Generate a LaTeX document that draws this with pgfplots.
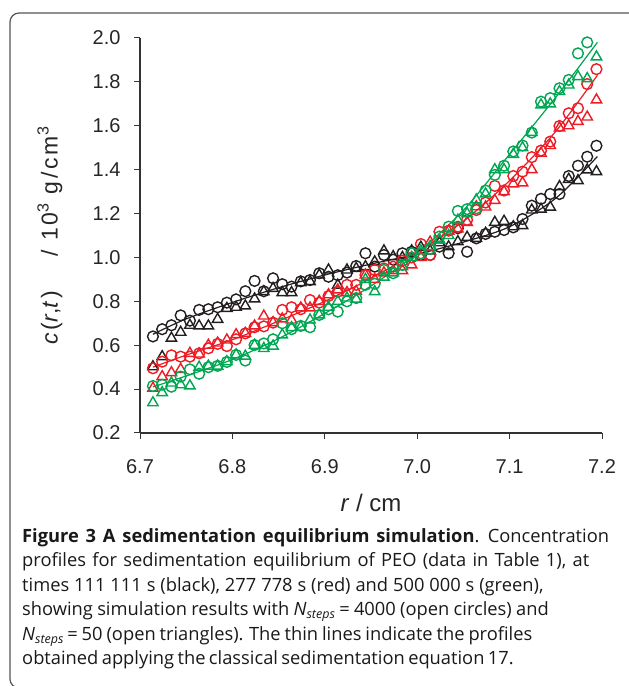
\documentclass[border=0pt]{standalone}
\usepackage{fontspec}
\setmainfont{Open Sans}
\newfontfamily\arial{Liberation Sans}
\newfontfamily\arialsp[LetterSpace=12]{Liberation Sans}
\usepackage{pgfplots}
\usepackage{pgfplotstable}
\pgfplotsset{compat=1.18}
\definecolor{cblack}{HTML}{231F20}
\definecolor{cred}{HTML}{ED1C24}
\definecolor{cgreen}{HTML}{00A651}
\definecolor{frame}{HTML}{555555}
\newcommand{\nsteps}{\textit{N}\raisebox{-0.28ex}{\fontsize{12.5}{14}\selectfont\itshape steps}}
\newcommand{\ws}[1]{\spaceskip=#1pt plus 0.5pt minus 0.5pt\relax}
\pgfplotstableread{
x bc bt rc rt gc gt
6.714 0.640 0.502 0.495 0.404 0.414 0.338
6.724 0.673 0.548 0.525 0.457 0.420 0.384
6.734 0.691 0.632 0.554 0.475 0.411 0.428
6.744 0.736 0.659 0.548 0.490 0.457 0.420
6.754 0.712 0.691 0.548 0.563 0.490 0.415
6.764 0.761 0.688 0.563 0.560 0.470 0.500
6.774 0.764 0.688 0.586 0.600 0.500 0.505
6.784 0.773 0.718 0.606 0.610 0.506 0.505
6.794 0.794 0.768 0.596 0.624 0.524 0.525
6.804 0.809 0.773 0.627 0.648 0.556 0.556
6.814 0.846 0.779 0.654 0.654 0.530 0.550
6.824 0.893 0.811 0.682 0.688 0.601 0.600
6.834 0.846 0.844 0.686 0.733 0.608 0.585
6.844 0.905 0.859 0.703 0.703 0.627 0.596
6.854 0.878 0.840 0.761 0.720 0.700 0.647
6.864 0.867 0.840 0.773 0.715 0.673 0.680
6.874 0.891 0.885 0.764 0.770 0.688 0.683
6.884 0.897 0.890 0.806 0.770 0.682 0.715
6.894 0.928 0.920 0.794 0.800 0.738 0.738
6.904 0.912 0.943 0.824 0.830 0.764 0.773
6.914 0.919 0.874 0.844 0.852 0.753 0.800
6.924 0.931 0.943 0.875 0.840 0.800 0.815
6.934 0.961 0.950 0.875 0.845 0.815 0.810
6.944 1.019 0.958 0.920 0.920 0.875 0.900
6.954 0.958 0.980 0.943 0.900 0.880 0.844
6.964 1.011 1.030 0.950 0.930 0.943 0.910
6.974 0.990 1.004 0.958 0.940 0.928 0.930
6.984 1.019 1.000 0.985 0.940 0.966 0.958
6.994 1.026 1.030 1.000 0.966 1.019 1.000
7.004 1.011 1.047 1.061 1.000 1.019 1.030
7.014 1.011 1.030 1.011 1.070 1.040 1.050
7.024 1.049 1.067 1.117 1.080 1.095 1.080
7.034 1.019 1.049 1.122 1.120 1.140 1.100
7.044 1.133 1.072 1.140 1.130 1.212 1.170
7.054 1.026 1.092 1.171 1.160 1.220 1.200
7.064 1.087 1.087 1.216 1.231 1.224 1.262
7.074 1.107 1.110 1.250 1.230 1.305 1.290
7.084 1.117 1.160 1.326 1.260 1.376 1.400
7.094 1.125 1.165 1.305 1.300 1.418 1.400
7.104 1.137 1.140 1.371 1.335 1.483 1.470
7.114 1.175 1.145 1.391 1.340 1.510 1.500
7.124 1.236 1.216 1.457 1.400 1.569 1.570
7.134 1.267 1.220 1.487 1.475 1.710 1.695
7.144 1.289 1.229 1.528 1.510 1.726 1.700
7.154 1.289 1.323 1.599 1.590 1.771 1.756
7.164 1.371 1.356 1.657 1.600 1.809 1.786
7.174 1.418 1.350 1.680 1.620 1.930 1.824
7.184 1.459 1.399 1.790 1.640 1.980 1.815
7.194 1.509 1.391 1.858 1.718 nan 1.914
}\datatable
\begin{document}
\begin{tikzpicture}[x=1pt,y=1pt]
\begin{axis}[
  at={(140pt,253pt)}, anchor=south west,
  scale only axis, width=462pt, height=395pt,
  xmin=6.7, xmax=7.2, ymin=0.2, ymax=2.0,
  axis x line*=bottom, axis y line*=left,
  axis line style={line width=1.4pt, color=black!80, -},
  xtick={6.7,6.8,6.9,7.0,7.1,7.2},
  ytick={0.2,0.4,...,2.0},
  tick align=outside, major tick length=6pt,
  tick style={line width=1pt, color=black!80},
  /pgf/number format/assume math mode=true,
  /pgf/number format/.cd, fixed, fixed zerofill, precision=1,
  /pgfplots/.cd,
  ticklabel style={font=\arial\fontsize{20}{24}\selectfont, text=black!85},
  xticklabel style={yshift=-17pt},
  yticklabel style={xshift=-10pt},
  xlabel={\textit{r} / cm},
  ylabel={\textit{c}(\textit{r},\textit{t})\hspace{1.5em}/ 10\textsuperscript{3} g/cm\textsuperscript{3}},
  xlabel style={font=\arial\fontsize{24}{28}\selectfont, text=black!85, at={(axis description cs:0.5,-0.178)}, anchor=center},
  ylabel style={font=\arialsp\fontsize{23}{28}\selectfont, text=black!85, at={(axis description cs:-0.195,0.5)}, anchor=center},
  clip=false,
]
\addplot[only marks, mark=triangle, mark size=6pt, cblack, mark options={line width=1.4pt}] table[x=x,y=bt]{\datatable};
\addplot[only marks, mark=o, mark size=5.4pt, cblack, mark options={line width=1.4pt}] table[x=x,y=bc]{\datatable};
\addplot[smooth, cblack, line width=1.2pt] coordinates {(6.714,0.65)(6.75,0.72)(6.8,0.795)(6.85,0.862)(6.9,0.92)(6.95,0.97)(7.0,1.015)(7.05,1.07)(7.1,1.14)(7.15,1.27)(7.195,1.46)};
\addplot[only marks, mark=triangle, mark size=6pt, cred, mark options={line width=1.4pt}] table[x=x,y=rt]{\datatable};
\addplot[only marks, mark=o, mark size=5.4pt, cred, mark options={line width=1.4pt}] table[x=x,y=rc]{\datatable};
\addplot[smooth, cred, line width=1.2pt] coordinates {(6.714,0.50)(6.75,0.555)(6.8,0.625)(6.85,0.71)(6.9,0.80)(6.95,0.905)(7.0,1.025)(7.05,1.165)(7.1,1.35)(7.15,1.575)(7.195,1.83)};
\addplot[only marks, mark=triangle, mark size=6pt, cgreen, mark options={line width=1.4pt}] table[x=x,y=gt]{\datatable};
\addplot[only marks, mark=o, mark size=5.4pt, cgreen, mark options={line width=1.4pt}] table[x=x,y=gc]{\datatable};
\addplot[smooth, cgreen, line width=1.2pt] coordinates {(6.714,0.41)(6.75,0.46)(6.8,0.535)(6.85,0.63)(6.9,0.745)(6.95,0.87)(7.0,1.02)(7.05,1.215)(7.1,1.47)(7.15,1.73)(7.195,1.98)};
\end{axis}
\node[anchor=base west, align=left, inner sep=0pt, text=black!90, font=\fontsize{18.3}{24.6}\selectfont] at (22,21)
{{\ws{6.8}\textbf{Figure 3 A sedimentation equilibrium simulation}. Concentration}\\
{\ws{6.3}profiles for sedimentation equilibrium of PEO (data in Table 1), at}\\
{\ws{4.9}times 111 111 s (black), 277 778 s (red) and 500 000 s (green),}\\
{\ws{4.3}showing simulation results with \nsteps{} = 4000 (open circles) and}\\
{\ws{3.9}\nsteps{} = 50 (open triangles). The thin lines indicate the profiles}\\
{\ws{3.4}obtained applying the classical sedimentation equation 17.}};
\draw[overlay, frame, line width=1.2pt, rounded corners=9pt] (10,-2) rectangle (645,673);
\pgfresetboundingbox
\useasboundingbox (0,0) rectangle (629,686);
\end{tikzpicture}
\end{document}
